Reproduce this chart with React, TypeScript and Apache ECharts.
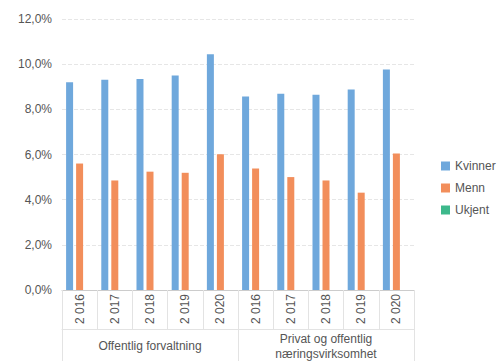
import React, { useEffect, useRef } from "react";
import * as echarts from "echarts";

const years = ["2 016", "2 017", "2 018", "2 019", "2 020", "2 016", "2 017", "2 018", "2 019", "2 020"];
const groups = ["Offentlig forvaltning", "Privat og offentlig\nnæringsvirksomhet"];
const kvinner = [9.2, 9.31, 9.34, 9.5, 10.44, 8.57, 8.69, 8.65, 8.88, 9.76];
const menn = [5.6, 4.85, 5.24, 5.19, 6.01, 5.38, 5.0, 4.85, 4.31, 6.04];
const ukjent: (number | null)[] = [null, null, null, null, null, null, null, null, null, null];
const yTicks = [0, 2, 4, 6, 8, 10, 12];

export default function App() {
  const ref = useRef<HTMLDivElement>(null);
  useEffect(() => {
    if (!ref.current) return;
    const chart = echarts.init(ref.current, undefined, { renderer: "svg" });
    const font = "Arial, 'Liberation Sans', sans-serif";
    chart.setOption({
      animation: false,
      textStyle: { fontFamily: font },
      grid: { left: 62, right: 86, top: 19, bottom: 70, containLabel: false },
      legend: {
        orient: "vertical",
        left: 436,
        top: 155,
        itemWidth: 9,
        itemHeight: 9,
        itemGap: 10,
        icon: "rect",
        textStyle: { fontSize: 12, color: "#555", fontFamily: font },
        data: ["Kvinner", "Menn", "Ukjent"],
      },
      xAxis: [
        {
          type: "category",
          data: years,
          position: "bottom",
          axisLine: { show: true, lineStyle: { color: "#ccc" } },
          axisTick: { show: true, length: 39, lineStyle: { color: "#e3e3e3" } },
          axisLabel: { rotate: 90, fontSize: 12, color: "#555", margin: 4, fontFamily: font },
        },
        {
          type: "category",
          data: groups,
          position: "bottom",
          offset: 39,
          axisLine: { show: true, lineStyle: { color: "#e3e3e3" } },
          axisTick: { show: true, length: 40, lineStyle: { color: "#e3e3e3" } },
          axisLabel: {
            fontSize: 12,
            color: "#555",
            margin: 17,
            lineHeight: 15,
            verticalAlign: "middle",
            fontFamily: font,
          },
        },
      ],
      yAxis: {
        type: "value",
        min: 0,
        max: 12,
        interval: 2,
        axisLine: { show: false },
        axisTick: { show: false },
        axisLabel: {
          fontSize: 12,
          color: "#555",
          margin: 10,
          fontFamily: font,
          formatter: (v: number) => (yTicks.includes(v) ? v.toFixed(1).replace(".", ",") + "%" : ""),
        },
        splitLine: { lineStyle: { color: "#e6e6e6", type: "dashed" } },
      },
      series: [
        { name: "Kvinner", type: "bar", data: kvinner, barWidth: 7, barGap: "43%", itemStyle: { color: "#6fa8dc" } },
        { name: "Menn", type: "bar", data: menn, barWidth: 7, barGap: "43%", itemStyle: { color: "#f28e5b" } },
        { name: "Ukjent", type: "bar", data: ukjent, barWidth: 7, barGap: "43%", itemStyle: { color: "#3db88b" } },
      ],
    });
    return () => chart.dispose();
  }, []);
  return <div ref={ref} style={{ width: 500, height: 361, position: "absolute", left: 0, top: 0 }} />;
}
